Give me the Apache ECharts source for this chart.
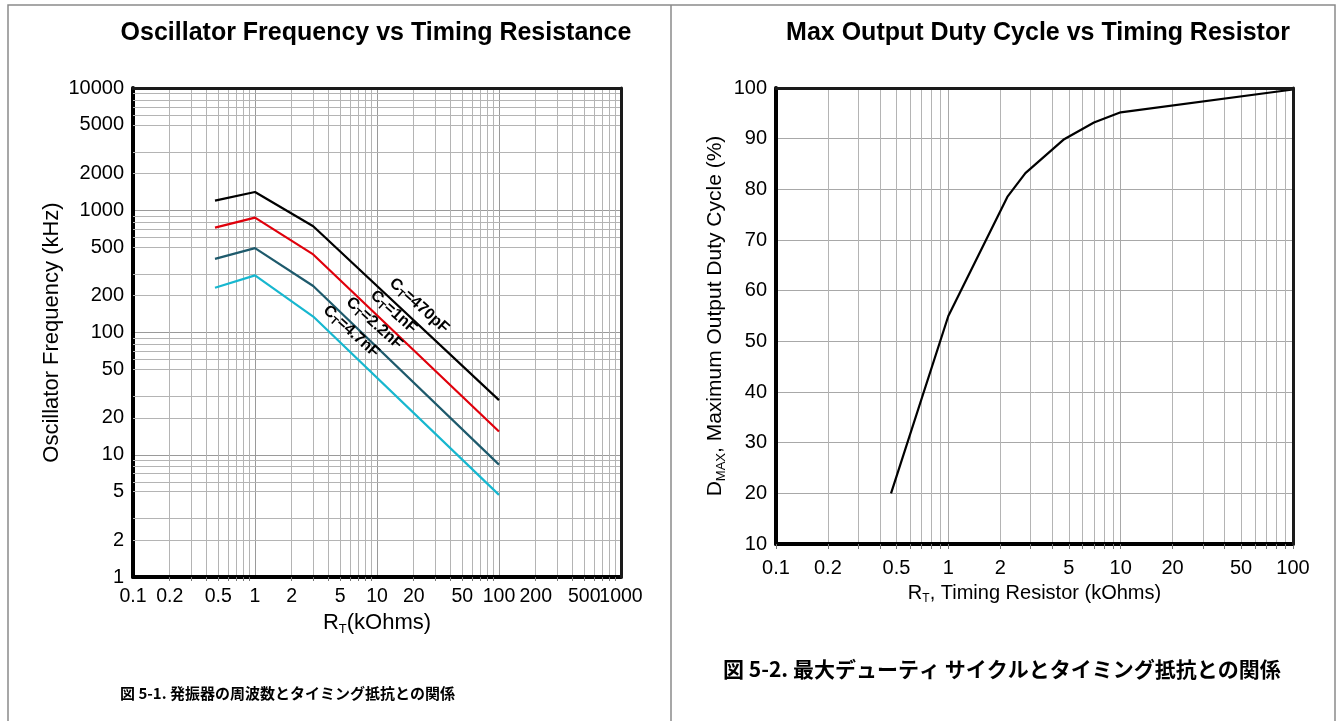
<!DOCTYPE html>
<html><head><meta charset="utf-8">
<script src="https://cdn.jsdelivr.net/npm/echarts@6/dist/echarts.min.js"></script>
<style>html,body{margin:0;padding:0;background:#fff}#c{width:1342px;height:721px}</style>
</head><body><div id="c"></div>
<script>
// ---- Left chart data: oscillator frequency (kHz) vs R_T (kOhms)
const rT = [0.47, 1, 3, 100];
const fCT470p = [1200, 1410, 740, 28];
const fCT1n = [720, 870, 435, 15.5];
const fCT2n2 = [400, 490, 240, 8.3];
const fCT4n7 = [232, 293, 135, 4.7];
const curveLabels = ['=470pF', '=1nF', '=2.2nF', '=4.7nF'];
const labelR = [22.4, 13.8, 9.6, 6.2];
const labelF = [164, 146, 118, 101];
const leftXTicks = [0.1, 0.2, 0.5, 1, 2, 5, 10, 20, 50, 100, 200, 1000];
const leftXTicksExtra = [500];
const leftYTicks = [1, 2, 5, 10, 20, 50, 100, 200, 500, 1000, 2000, 5000, 10000];
const leftYMinor = [2, 3, 5, 6, 7, 8, 9, 20, 30, 50, 60, 70, 80, 90,
  200, 300, 500, 600, 700, 800, 900, 2000, 3000, 5000, 6000, 7000, 8000, 9000];
// ---- Right chart data: max duty cycle (%) vs R_T (kOhms)
const rTd = [0.465, 1, 2.2, 2.8, 4.7, 7, 10, 100];
const dMax = [20, 55, 78.5, 83.2, 89.9, 93.2, 95.2, 99.7];
const rightXTicks = [0.1, 0.2, 0.5, 1, 2, 5, 10, 20, 50, 100];

const FONT = '"Liberation Sans", Arial, sans-serif';
const curveColors = ['#000000', '#e0000b', '#1e5a6c', '#17b7cf'];
const curveData = [fCT470p, fCT1n, fCT2n2, fCT4n7];

function subRich(size) {
  return {
    n: {fontSize: size, fontFamily: FONT, color: '#000', lineHeight: size + 4},
    s: {fontSize: Math.round(size * 0.6), fontFamily: FONT, color: '#000',
      lineHeight: Math.round(size * 0.6), verticalAlign: 'bottom'}
  };
}

function frameAxisX(gi, max) {
  return {gridIndex: gi, type: 'log', logBase: 10, min: 0.1, max: max, position: 'top', z: 5,
    axisLine: {show: true, onZero: false, lineStyle: {color: '#1a1a1a', width: 3}},
    axisTick: {show: false}, axisLabel: {show: false}, splitLine: {show: false}};
}

const fmt = v => String(+(+v).toPrecision(6));

const chart = echarts.init(document.getElementById('c'), null, {renderer: 'canvas'});

const series = [];
// minor horizontal grid lines for left chart (log paper)
series.push({
  type: 'line', xAxisIndex: 0, yAxisIndex: 0, data: [[0.1, 1]], showSymbol: false, silent: true, z: 1,
  lineStyle: {width: 0},
  markLine: {silent: true, symbol: 'none', label: {show: false}, animation: false, z: 1,
    lineStyle: {color: '#b4b4b4', width: 1, type: 'solid'},
    emphasis: {disabled: true},
    data: leftYMinor.map(v => ({yAxis: v}))}
});
curveData.forEach((d, i) => {
  series.push({
    type: 'line', xAxisIndex: 0, yAxisIndex: 0, name: 'CT' + curveLabels[i],
    data: rT.map((r, k) => [r, d[k]]), showSymbol: false, z: 3,
    lineStyle: {color: curveColors[i], width: 2.2}, animation: false
  });
});
series.push({
  type: 'scatter', xAxisIndex: 0, yAxisIndex: 0, symbolSize: 1, z: 6, zlevel: 1, animation: false,
  silent: true,
  itemStyle: {color: 'rgba(0,0,0,0)'},
  data: labelR.map((r, k) => ({value: [r, labelF[k]], lbl: curveLabels[k]})),
  label: {show: true, position: [0, 0], align: 'center', verticalAlign: 'middle', rotate: -42,
    color: '#000', textBorderWidth: 0, opacity: 1,
    formatter: p => '{b|C}{t|T}{b|' + p.data.lbl + '}',
    rich: {
      b: {fontSize: 16, fontWeight: 'bold', fontFamily: FONT, color: '#000', lineHeight: 19},
      t: {fontSize: 11, fontWeight: 'bold', fontFamily: FONT, color: '#000', lineHeight: 11,
        verticalAlign: 'bottom'}
    }}
});
series.push({
  type: 'line', xAxisIndex: 2, yAxisIndex: 2, data: rTd.map((r, k) => [r, dMax[k]]),
  showSymbol: false, z: 3, animation: false, lineStyle: {color: '#000', width: 2.2}
});

chart.setOption({
  animation: false,
  backgroundColor: '#fff',
  grid: [
    {left: 133, top: 88, width: 488, height: 489},
    {left: 133, top: 88, width: 488, height: 489},
    {left: 776, top: 88, width: 517, height: 456},
    {left: 776, top: 88, width: 517, height: 456}
  ],
  xAxis: [
    {gridIndex: 0, type: 'log', logBase: 10, min: 0.1, max: 1000,
      axisLine: {show: true, onZero: false, lineStyle: {color: '#000', width: 4}},
      axisTick: {show: false},
      minorTick: {show: true, splitNumber: 9, length: 4, lineStyle: {color: '#777'}},
      splitLine: {show: true, lineStyle: {color: '#9a9a9a', width: 1}},
      minorSplitLine: {show: true, lineStyle: {color: '#b4b4b4', width: 1}},
      axisLabel: {customValues: leftXTicks, fontSize: 19.5, fontFamily: FONT, color: '#000', margin: 10,
        hideOverlap: false, showMinLabel: true, showMaxLabel: true, formatter: fmt},
      name: '{n|R}{s|T}{n|(kOhms)}', nameLocation: 'middle', nameGap: 30,
      nameTextStyle: {rich: subRich(22)}},
    frameAxisX(1, 1000),
    {gridIndex: 2, type: 'log', logBase: 10, min: 0.1, max: 100,
      axisLine: {show: true, onZero: false, lineStyle: {color: '#000', width: 4}},
      axisTick: {show: true, length: 5, lineStyle: {color: '#777'}},
      minorTick: {show: true, splitNumber: 9, length: 5, lineStyle: {color: '#777'}},
      splitLine: {show: true, lineStyle: {color: '#a8a8a8', width: 1}},
      minorSplitLine: {show: true, lineStyle: {color: '#b4b4b4', width: 1}},
      axisLabel: {customValues: rightXTicks, fontSize: 20, fontFamily: FONT, color: '#000', margin: 14,
        hideOverlap: false, showMinLabel: true, showMaxLabel: true, formatter: fmt},
      name: '{n|R}{s|T}{n|, Timing Resistor (kOhms)}', nameLocation: 'middle', nameGap: 37,
      nameTextStyle: {rich: subRich(20)}},
    frameAxisX(3, 100),
    {gridIndex: 1, type: 'log', logBase: 10, min: 0.1, max: 1000, position: 'bottom',
      axisLine: {show: false}, axisTick: {show: false}, splitLine: {show: false},
      axisLabel: {customValues: leftXTicksExtra, fontSize: 19.5, fontFamily: FONT, color: '#000', margin: 10,
        showMinLabel: true, showMaxLabel: true, formatter: fmt}}
  ],
  yAxis: [
    {gridIndex: 0, type: 'log', logBase: 10, min: 1, max: 10000,
      axisLine: {show: true, onZero: false, lineStyle: {color: '#000', width: 4}},
      axisTick: {show: false},
      splitLine: {show: true, lineStyle: {color: '#9a9a9a', width: 1}},
      axisLabel: {customValues: leftYTicks, fontSize: 20, fontFamily: FONT, color: '#000', margin: 9,
        hideOverlap: false, showMinLabel: true, showMaxLabel: true, formatter: fmt},
      name: 'Oscillator Frequency (kHz)', nameLocation: 'middle', nameGap: 70,
      nameTextStyle: {fontSize: 22, fontFamily: FONT, color: '#000'}},
    {gridIndex: 1, type: 'log', logBase: 10, min: 1, max: 10000, position: 'right', z: 5,
      axisLine: {show: true, onZero: false, lineStyle: {color: '#1a1a1a', width: 3}},
      axisTick: {show: false}, axisLabel: {show: false}, splitLine: {show: false}},
    {gridIndex: 2, type: 'value', min: 10, max: 100, interval: 10,
      axisLine: {show: true, onZero: false, lineStyle: {color: '#000', width: 4}},
      axisTick: {show: false},
      splitLine: {show: true, lineStyle: {color: '#a8a8a8', width: 1}},
      axisLabel: {fontSize: 20, fontFamily: FONT, color: '#000', margin: 9, showMinLabel: true, showMaxLabel: true},
      name: '{n|D}{s|MAX}{n|, Maximum Output Duty Cycle (%)}', nameLocation: 'middle', nameGap: 48,
      nameTextStyle: {rich: subRich(21)}},
    {gridIndex: 3, type: 'value', min: 10, max: 100, interval: 10, position: 'right', z: 5,
      axisLine: {show: true, onZero: false, lineStyle: {color: '#1a1a1a', width: 3}},
      axisTick: {show: false}, axisLabel: {show: false}, splitLine: {show: false}}
  ],
  series: series,
  graphic: [
    {type: 'rect', silent: true, z: -10, shape: {x: 8, y: 5, width: 1327, height: 740},
      style: {fill: 'none', stroke: '#8a8a8a', lineWidth: 1.5}},
    {type: 'line', silent: true, z: -10, shape: {x1: 671, y1: 5, x2: 671, y2: 721},
      style: {stroke: '#8a8a8a', lineWidth: 1.5}},
    {type: 'text', silent: true, x: 376, y: 33,
      style: {text: 'Oscillator Frequency vs Timing Resistance', align: 'center', verticalAlign: 'middle',
        font: 'bold 25px ' + FONT, fill: '#000'}},
    {type: 'text', silent: true, x: 1038, y: 33,
      style: {text: 'Max Output Duty Cycle vs Timing Resistor', align: 'center', verticalAlign: 'middle',
        font: 'bold 25px ' + FONT, fill: '#000'}},
    {type: 'text', silent: true, x: 120, y: 693,
      style: {text: '図 5-1. 発振器の周波数とタイミング抵抗との関係', align: 'left', verticalAlign: 'middle',
        font: 'bold 15px "Noto Sans CJK JP", sans-serif', fill: '#000'}},
    {type: 'text', silent: true, x: 723, y: 669,
      style: {text: '図 5-2. 最大デューティ サイクルとタイミング抵抗との関係', align: 'left', verticalAlign: 'middle',
        font: 'bold 21px "Noto Sans CJK JP", sans-serif', fill: '#000'}}
  ]
});
</script>
</body></html>
